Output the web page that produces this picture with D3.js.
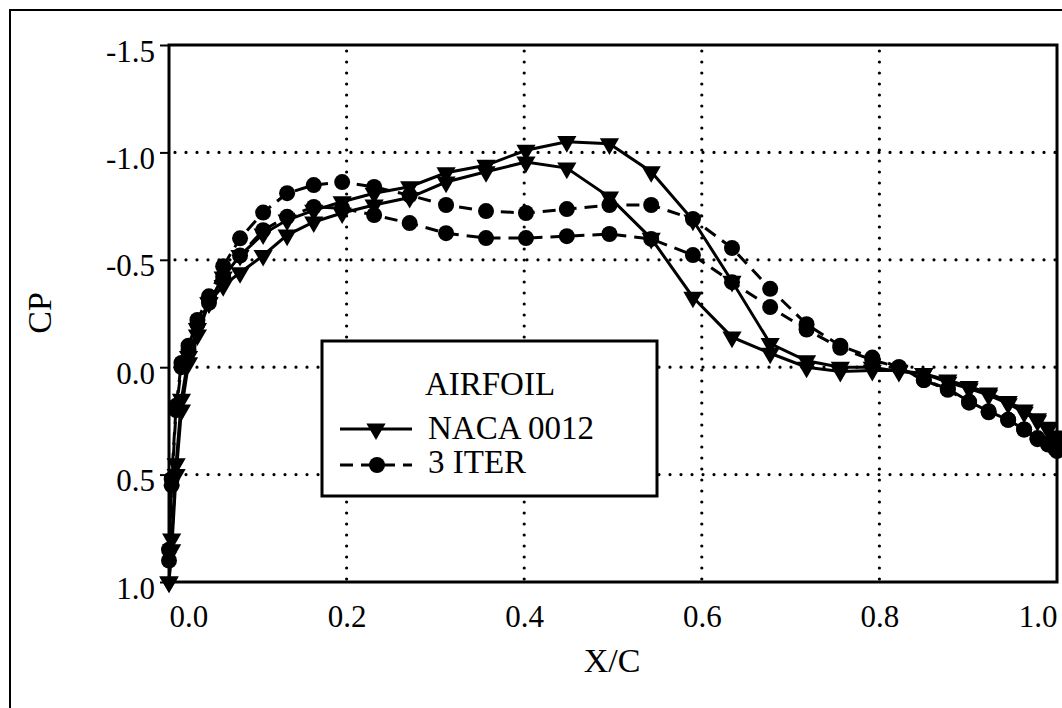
<!DOCTYPE html>
<html>
<head>
<meta charset="utf-8">
<script src="https://cdn.jsdelivr.net/npm/d3@7"></script>
<style>
  body { margin: 0; background: #fff; }
  text { font-family: "Liberation Serif", "Times New Roman", serif; fill: #000; }
</style>
</head>
<body>
<svg id="chart"></svg>
<script>
var width = 1062;
var height = 708;

// x/c stations shared by all four curves
var xc = [0.000, 0.003, 0.008, 0.014, 0.022, 0.032, 0.045, 0.061, 0.080, 0.106,
          0.133, 0.163, 0.195, 0.231, 0.271, 0.312, 0.357, 0.402, 0.448, 0.496,
          0.543, 0.590, 0.634, 0.677, 0.718, 0.756, 0.792, 0.822, 0.850, 0.877,
          0.901, 0.923, 0.945, 0.963, 0.978, 0.990, 0.998, 1.000];

// NACA 0012, two surfaces
var nacaA = [1.00, 0.85, 0.50, 0.20, -0.02, -0.15, -0.30, -0.42, -0.52, -0.62,
             -0.685, -0.73, -0.77, -0.81, -0.84, -0.905, -0.94, -1.01, -1.05, -1.04,
             -0.91, -0.685, -0.40, -0.11, -0.03, 0.00, 0.00, 0.02, 0.03, 0.07,
             0.10, 0.13, 0.17, 0.21, 0.25, 0.29, 0.33, 0.36];
var nacaB = [1.00, 0.80, 0.45, 0.15, -0.05, -0.18, -0.30, -0.38, -0.44, -0.52,
             -0.615, -0.676, -0.718, -0.755, -0.79, -0.862, -0.91, -0.955, -0.927, -0.792,
             -0.60, -0.326, -0.14, -0.065, 0.00, 0.02, 0.015, 0.015, 0.03, 0.06,
             0.09, 0.12, 0.16, 0.20, 0.24, 0.28, 0.32, 0.35];

// 3 ITER, two surfaces
var iterA = [0.85, 0.52, 0.18, -0.02, -0.10, -0.22, -0.33, -0.47, -0.60, -0.72,
             -0.81, -0.848, -0.862, -0.839, -0.80, -0.755, -0.727, -0.718, -0.736, -0.755,
             -0.755, -0.69, -0.555, -0.365, -0.20, -0.10, -0.045, 0.00, 0.06, 0.105,
             0.165, 0.21, 0.245, 0.29, 0.335, 0.36, 0.38, 0.39];
var iterB = [0.90, 0.55, 0.20, 0.00, -0.08, -0.20, -0.30, -0.42, -0.52, -0.638,
             -0.70, -0.746, -0.74, -0.708, -0.671, -0.624, -0.601, -0.601, -0.61, -0.62,
             -0.597, -0.522, -0.396, -0.28, -0.175, -0.09, -0.033, 0.00, 0.06, 0.10,
             0.16, 0.205, 0.245, 0.29, 0.33, 0.355, 0.375, 0.38];

var xTicks = [0.0, 0.2, 0.4, 0.6, 0.8, 1.0];
var yTicks = [-1.5, -1.0, -0.5, 0.0, 0.5, 1.0];
var legendNames = ["NACA 0012", "3 ITER"];

var margin = { left: 169, top: 45, right: 5, bottom: 126 };

// plain hyphen for negatives, like the original plot
function fmt(d) { return (d < 0 ? "-" : "") + Math.abs(d).toFixed(1); }

var svg = d3.select("#chart")
  .attr("width", width)
  .attr("height", height);

// outer frame (left and top edges visible)
svg.append("path")
  .attr("d", "M10," + height + "V10H" + width)
  .attr("fill", "none")
  .attr("stroke", "#000")
  .attr("stroke-width", 2);

var x = d3.scaleLinear().domain([0, 1]).range([margin.left, width - margin.right]);
var y = d3.scaleLinear().domain([-1.5, 1.0]).range([margin.top, height - margin.bottom]);

var g = svg.append("g");

// dotted grid
g.selectAll(".vgrid")
  .data(xTicks.slice(1, -1))
  .enter().append("line")
  .attr("x1", function (d) { return x(d); })
  .attr("x2", function (d) { return x(d); })
  .attr("y1", y(-1.5) + 6)
  .attr("y2", y(1.0))
  .attr("stroke", "#000")
  .attr("stroke-width", 3.2)
  .attr("stroke-linecap", "round")
  .attr("stroke-dasharray", "0,11");

g.selectAll(".hgrid")
  .data(yTicks.slice(1, -1))
  .enter().append("line")
  .attr("x1", x(0) + 6)
  .attr("x2", x(1))
  .attr("y1", function (d) { return y(d); })
  .attr("y2", function (d) { return y(d); })
  .attr("stroke", "#000")
  .attr("stroke-width", 3.2)
  .attr("stroke-linecap", "round")
  .attr("stroke-dasharray", "0,11");

// axes
var yAxis = d3.axisLeft(y).tickValues(yTicks).tickSize(9).tickPadding(5)
  .tickFormat(fmt);
var yg = g.append("g").attr("transform", "translate(" + margin.left + ",0)").call(yAxis);
yg.select(".domain").remove();
yg.selectAll(".tick line").attr("stroke", "#000").attr("stroke-width", 2);
yg.selectAll(".tick text")
  .attr("dy", 16)
  .attr("x", -14)
  .style("font-family", "Liberation Serif")
  .style("font-size", "31px");

var xAxis = d3.axisBottom(x).tickValues(xTicks).tickSize(0).tickPadding(25)
  .tickFormat(fmt);
var xg = g.append("g").attr("transform", "translate(0," + y(1.0) + ")").call(xAxis);
xg.select(".domain").remove();
xg.selectAll(".tick text")
  .attr("dy", 20)
  .style("font-family", "Liberation Serif")
  .style("font-size", "31px")
  .attr("text-anchor", function (d) { return d === 0 ? "start" : (d === 1 ? "end" : "middle"); });

// curves
function pts(cp) { return xc.map(function (v, i) { return [v, cp[i]]; }); }

var line = d3.line()
  .x(function (d) { return x(d[0]); })
  .y(function (d) { return y(d[1]); });

var series = [
  { cp: nacaA, dash: null, mark: "tri" },
  { cp: nacaB, dash: null, mark: "tri" },
  { cp: iterA, dash: "13,8", mark: "dot" },
  { cp: iterB, dash: "13,8", mark: "dot" }
];

var tri = d3.symbol().type(d3.symbolTriangle).size(160);

series.forEach(function (s) {
  g.append("path")
    .datum(pts(s.cp))
    .attr("d", line)
    .attr("fill", "none")
    .attr("stroke", "#000")
    .attr("stroke-width", 3)
    .attr("stroke-dasharray", s.dash);
});

series.forEach(function (s) {
  var m = g.selectAll(null).data(pts(s.cp)).enter();
  if (s.mark === "dot") {
    m.append("circle")
      .attr("cx", function (d) { return x(d[0]); })
      .attr("cy", function (d) { return y(d[1]); })
      .attr("r", 8)
      .attr("fill", "#000");
  } else {
    m.append("path")
      .attr("d", tri)
      .attr("transform", function (d) {
        return "translate(" + x(d[0]) + "," + y(d[1]) + ") rotate(180)";
      })
      .attr("fill", "#000");
  }
});

// plot frame
g.append("rect")
  .attr("x", x(0))
  .attr("y", y(-1.5))
  .attr("width", x(1) - x(0))
  .attr("height", y(1.0) - y(-1.5))
  .attr("fill", "none")
  .attr("stroke", "#000")
  .attr("stroke-width", 3);

// axis titles
svg.append("text")
  .attr("x", 612)
  .attr("y", 672)
  .attr("text-anchor", "middle")
  .style("font-size", "34px")
  .text("X/C");

svg.append("text")
  .attr("transform", "translate(51,313) rotate(-90)")
  .attr("text-anchor", "middle")
  .style("font-size", "34px")
  .text("CP");

// legend
var lg = svg.append("g");
lg.append("rect")
  .attr("x", 322).attr("y", 341)
  .attr("width", 335).attr("height", 155)
  .attr("fill", "#fff")
  .attr("stroke", "#000")
  .attr("stroke-width", 3);

lg.append("text")
  .attr("x", 490).attr("y", 395)
  .attr("text-anchor", "middle")
  .style("font-size", "33px")
  .text("AIRFOIL");

var rows = [{ y: 429, base: 439, dash: null, mark: "tri" },
            { y: 465, base: 473, dash: "13,8", mark: "dot" }];

rows.forEach(function (r, i) {
  lg.append("line")
    .attr("x1", 340).attr("x2", 412)
    .attr("y1", r.y).attr("y2", r.y)
    .attr("stroke", "#000")
    .attr("stroke-width", 3)
    .attr("stroke-dasharray", r.dash);
  if (r.mark === "tri") {
    lg.append("path")
      .attr("d", tri)
      .attr("transform", "translate(376," + r.y + ") rotate(180)")
      .attr("fill", "#000");
  } else {
    lg.append("circle")
      .attr("cx", 377).attr("cy", r.y).attr("r", 8)
      .attr("fill", "#000");
  }
  lg.append("text")
    .attr("x", 428).attr("y", r.base)
    .style("font-size", "33px")
    .text(legendNames[i]);
});
</script>
</body>
</html>
